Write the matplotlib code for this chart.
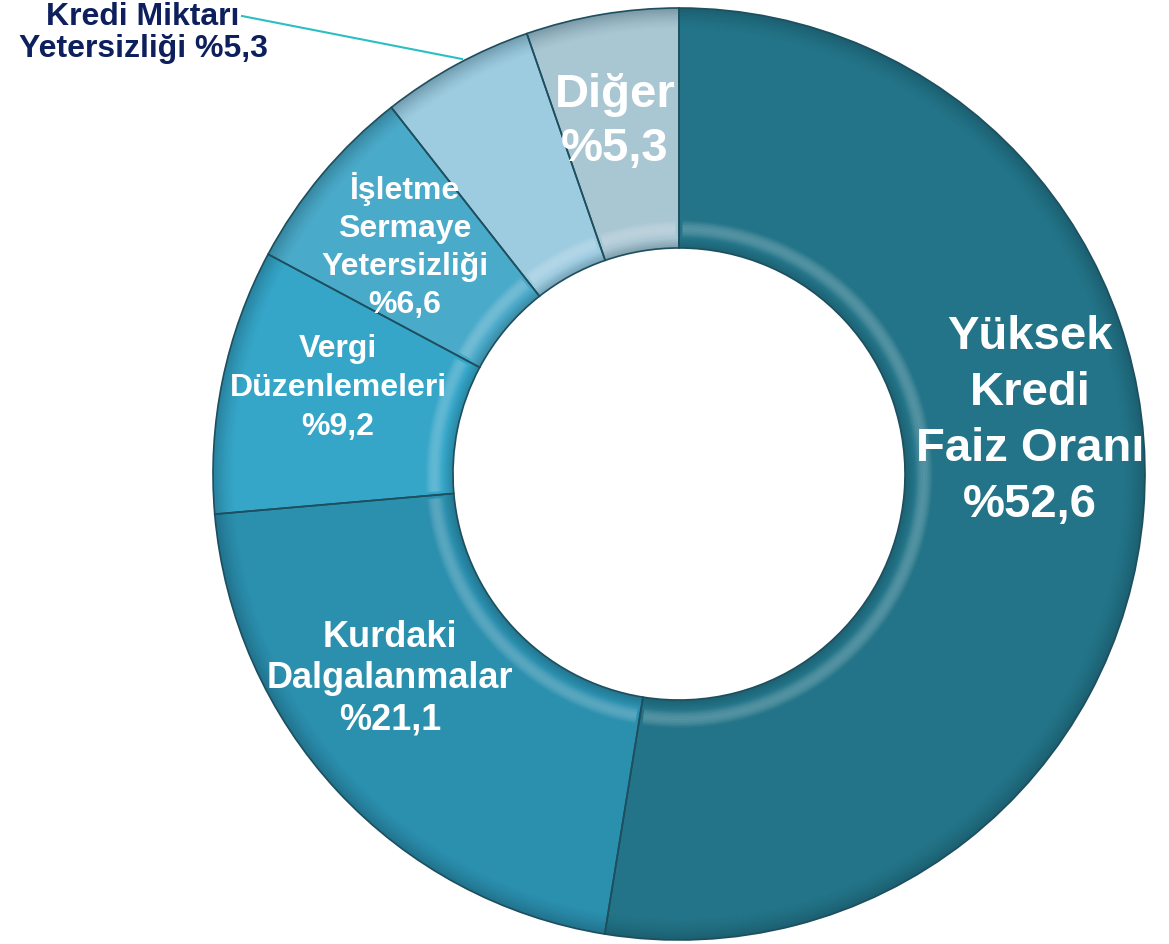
import matplotlib
matplotlib.use("Agg")
import matplotlib.pyplot as plt
from matplotlib.patches import Wedge
import numpy as np

plt.rcParams['font.family'] = ['Liberation Sans', 'DejaVu Sans']

categories = ["Yüksek\nKredi\nFaiz Oranı", "Kurdaki\nDalgalanmalar", "Vergi\nDüzenlemeleri",
              "İşletme\nSermaye\nYetersizliği", "Kredi Miktarı\nYetersizliği", "Diğer"]
values = [52.6, 21.1, 9.2, 6.6, 5.3, 5.3]
value_labels = ["%52,6", "%21,1", "%9,2", "%6,6", "%5,3", "%5,3"]

colors = ["#237488", "#2b8fae", "#35a5c8", "#4aaac9", "#9dcbe0", "#a9c6d3"]

W, H = 1169, 945
fig = plt.figure(figsize=(W / 100, H / 100), dpi=100)
ax = fig.add_axes([0, 0, 1, 1])

cx, cy = 679, H - 475
R = 466
ring = R * 0.515
wedges, _ = ax.pie(values, colors=colors, startangle=90, counterclock=False,
                   center=(cx, cy), radius=R, frame=True,
                   wedgeprops=dict(width=ring, edgecolor="none", linewidth=0))
ax.set_xlim(0, W)
ax.set_ylim(0, H)
ax.set_aspect("equal")
ax.axis("off")

# bevel shading on each wedge
Rin = R - ring
for w in wedges:
    t1, t2 = w.theta1, w.theta2
    # outer rim darkening
    n = 14
    for k in range(n):
        a = 0.30 * (1 - k / n) ** 1.5
        ax.add_patch(Wedge((cx, cy), R - k * 1.5, t1, t2, width=1.5,
                           facecolor="#0b2e3a", edgecolor="none", alpha=a, zorder=2))
    # inner rim: dark edge then light highlight
    for k in range(6):
        a = 0.25 * (1 - k / 6)
        ax.add_patch(Wedge((cx, cy), Rin + (k + 1) * 1.5, t1, t2, width=1.5,
                           facecolor="#0b2e3a", edgecolor="none", alpha=a, zorder=2))
    for k in range(12):
        a = 0.22 * np.sin(np.pi * (k + 0.5) / 12)
        ax.add_patch(Wedge((cx, cy), Rin + 10 + (k + 1) * 1.5, t1 + 0.8, t2 - 0.8, width=1.5,
                           facecolor="white", edgecolor="none", alpha=a, zorder=2))
    ax.add_patch(Wedge((cx, cy), R, t1, t2, width=ring, facecolor="none",
                       edgecolor="#1d4f5e", linewidth=1.2, zorder=3))

# label placement (pixel coords, y from top) and styles
label_pos = [(1030, 421), (390, 679), (338, 388), (405, 246), (143, 33), (615, 122)]
label_size = [34, 26, 23, 23, 23, 34]
label_space = [1.36, 1.24, 1.41, 1.34, 1.12, 1.27]
label_color = ["white", "white", "white", "white", "#0d1f5c", "white"]
for i, (cat, vl) in enumerate(zip(categories, value_labels)):
    x, y = label_pos[i]
    txt = cat + (" " if i == 4 else "\n") + vl
    ax.text(x, H - y, txt, ha="center", va="center", fontsize=label_size[i],
            fontweight="bold", color=label_color[i], linespacing=label_space[i], zorder=5)

# leader line for small slice
ax.plot([242, 462], [H - 17, H - 60], color="#2bbfc4", lw=1.5, zorder=5)

fig.savefig("out.png", dpi=100)
